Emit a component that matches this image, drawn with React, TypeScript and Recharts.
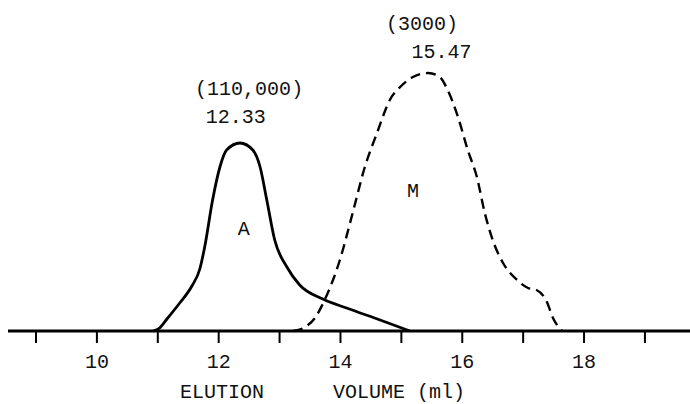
import { LineChart, Line, XAxis, YAxis, ReferenceDot } from 'recharts'

// Peak A (solid) - elution volume (ml) vs detector signal
const aVolume = [10.92, 11.03, 11.15, 11.36, 11.56, 11.69, 11.77, 11.9, 12.02, 12.13, 12.35, 12.56, 12.68, 12.79, 12.92, 13.12, 13.33, 13.71, 14.1, 14.65, 15.14]
const aSignal = [0, 3, 12, 28, 45, 62, 84, 131, 164, 181, 188, 181, 164, 131, 91, 64, 46, 32, 23, 11, 0]

// Peak M (dashed)
const mVolume = [13.22, 13.42, 13.58, 13.74, 13.99, 14.2, 14.4, 14.6, 14.81, 14.98, 15.19, 15.44, 15.63, 15.76, 15.93, 16.09, 16.24, 16.37, 16.5, 16.67, 16.9, 17.08, 17.22, 17.39, 17.49, 17.64]
const mSignal = [0, 4, 13, 31, 71, 118, 164, 198, 231, 244, 254, 258, 254, 241, 214, 181, 154, 118, 91, 68, 51, 43, 41, 29, 13, 0]

const xTicks = [9, 10, 11, 12, 13, 14, 15, 16, 17, 18, 19]
const labeledTicks = [10, 12, 14, 16, 18]

const notes = [
  { v: 12.5, s: 236, text: '(110,000)' },
  { v: 12.28, s: 208, text: '12.33' },
  { v: 15.34, s: 301, text: '(3000)' },
  { v: 15.66, s: 273, text: '15.47' },
  { v: 12.41, s: 96, text: 'A' },
  { v: 15.19, s: 134, text: 'M' },
]

const FONT = '"Liberation Mono", monospace'

const aData = aVolume.map((v, i) => ({ v, s: aSignal[i] }))
const mData = mVolume.map((v, i) => ({ v, s: mSignal[i] }))

function VolumeTick({ x, y, payload }: any) {
  if (!labeledTicks.includes(payload.value)) return <g />
  return (
    <text x={x} y={y} dy={23} textAnchor="middle" fontFamily={FONT} fontSize={20} fill="#111">
      {payload.value}
    </text>
  )
}

function AxisTitle({ viewBox }: any) {
  const base = viewBox.y + 67
  return (
    <g fontFamily={FONT} fontSize={20} fill="#111">
      <text x={180} y={base}>ELUTION</text>
      <text x={333} y={base}>VOLUME (ml)</text>
    </g>
  )
}

export default function App() {
  return (
    <div style={{ position: 'absolute', left: 0, top: 0, background: '#fff' }}>
      <LineChart width={690} height={404} margin={{ top: 0, right: 0, bottom: 0, left: 8 }}>
        <XAxis
          type="number"
          dataKey="v"
          domain={[8.54, 19.74]}
          allowDataOverflow
          ticks={xTicks}
          height={73}
          tickSize={12}
          axisLine={{ stroke: '#000', strokeWidth: 3 }}
          tickLine={{ stroke: '#000', strokeWidth: 2 }}
          tick={(props: any) => <VolumeTick {...props} />}
          label={<AxisTitle />}
        />
        <YAxis type="number" domain={[0, 331]} hide />
        <Line
          data={aData}
          dataKey="s"
          type="monotone"
          stroke="#000"
          strokeWidth={2.8}
          dot={false}
          activeDot={false}
          isAnimationActive={false}
        />
        <Line
          data={mData}
          dataKey="s"
          type="monotone"
          stroke="#000"
          strokeWidth={2.4}
          strokeDasharray="10 6"
          dot={false}
          activeDot={false}
          isAnimationActive={false}
        />
        {notes.map((n) => (
          <ReferenceDot
            key={n.text}
            x={n.v}
            y={n.s}
            r={0}
            shape={(p: any) => (
              <text x={p.cx} y={p.cy} textAnchor="middle" fontFamily={FONT} fontSize={20} fill="#111">
                {n.text}
              </text>
            )}
          />
        ))}
      </LineChart>
    </div>
  )
}
